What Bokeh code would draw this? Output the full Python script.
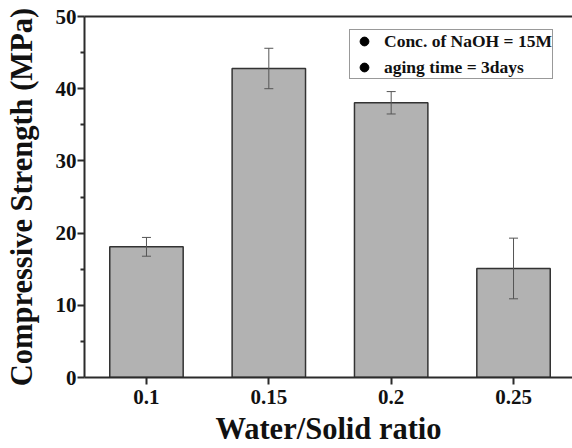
from bokeh.plotting import figure
from bokeh.models import (ColumnDataSource, Whisker, TeeHead, LinearAxis, FixedTicker,
                          Legend, LegendItem, Range1d)
from bokeh.embed import file_html
from bokeh.resources import INLINE

ratios = ["0.1", "0.15", "0.2", "0.25"]
strength = [18.1, 42.8, 38.05, 15.1]
errors = [1.3, 2.8, 1.55, 4.2]
legend_labels = ["Conc. of NaOH = 15M", "aging time = 3days"]
y_ticks = [0, 10, 20, 30, 40, 50]

xpos = list(range(1, len(ratios) + 1))
src = ColumnDataSource(data=dict(
    x=xpos, top=strength,
    upper=[v + e for v, e in zip(strength, errors)],
    lower=[v - e for v, e in zip(strength, errors)],
))

FONT = "Liberation Serif"
AX = "#2b2b2b"

p = figure(width=572, height=448, output_backend="svg", toolbar_location=None,
           x_range=Range1d(0.4935, 4.482), y_range=Range1d(0, 50),
           min_border_left=84, min_border_top=16, min_border_bottom=70, min_border_right=0,
           x_axis_location="below")
p.outline_line_color = None
p.xgrid.visible = False
p.ygrid.visible = False
p.background_fill_color = "white"
p.border_fill_color = "white"

p.vbar(x="x", top="top", width=0.6, bottom=0, source=src,
       fill_color="#b2b2b2", line_color="#333333", line_width=1.5)

w = Whisker(base="x", upper="upper", lower="lower", source=src,
            line_color="#555555", line_width=1, level="overlay",
            upper_head=TeeHead(size=9, line_color="#555555", line_width=1),
            lower_head=TeeHead(size=9, line_color="#555555", line_width=1))
p.add_layout(w)

# axes
xa = p.xaxis[0]
xa.ticker = FixedTicker(ticks=xpos)
xa.major_label_overrides = {i: r for i, r in zip(xpos, ratios)}
xa.axis_label = "Water/Solid ratio"
ya = p.yaxis[0]
ya.ticker = FixedTicker(ticks=y_ticks, minor_ticks=[5, 15, 25, 35, 45])
ya.axis_label = "Compressive Strength (MPa)"

for ax in (xa, ya):
    ax.axis_line_color = AX
    ax.axis_line_width = 2
    ax.major_tick_line_color = AX
    ax.major_tick_line_width = 2
    ax.major_tick_out = 7
    ax.major_tick_in = 0
    ax.minor_tick_line_color = AX
    ax.minor_tick_line_width = 2
    ax.minor_tick_out = 4
    ax.minor_tick_in = 0
    ax.major_label_text_font = FONT
    ax.major_label_text_font_style = "bold"
    ax.major_label_text_font_size = "21px"
    ax.major_label_text_color = "#111111"
    ax.axis_label_text_font = FONT
    ax.axis_label_text_font_style = "bold"
    ax.axis_label_text_font_size = "30.5px"
    ax.axis_label_text_color = "#111111"
xa.minor_tick_line_color = None
xa.major_label_standoff = 5
xa.axis_label_standoff = 5
ya.major_label_standoff = 1
ya.axis_label_standoff = 14

top_ax = LinearAxis(ticker=FixedTicker(ticks=[]), axis_line_color=AX, axis_line_width=2,
                    major_tick_line_color=None, minor_tick_line_color=None,
                    major_label_text_font_size="0px")
p.add_layout(top_ax, "above")

# legend with bullet markers (one marker placed outside the visible range)
dummy = ColumnDataSource(data=dict(x=[-100.0], y=[-100.0]))
r = p.scatter(x="x", y="y", source=dummy, size=5.5, color="black", marker="circle")
items = [LegendItem(label=t, renderers=[r]) for t in legend_labels]
leg = Legend(items=items, location=(265, 298),
             label_text_font=FONT, label_text_font_style="bold",
             label_text_font_size="17.5px", label_text_color="#111111",
             label_height=22, glyph_height=22, glyph_width=28, label_standoff=6,
             spacing=4, padding=0, margin=0,
             border_line_color="#333333", border_line_width=1.5,
             background_fill_alpha=1)
p.add_layout(leg, "center")

open("out.html", "w").write(file_html(p, INLINE))
